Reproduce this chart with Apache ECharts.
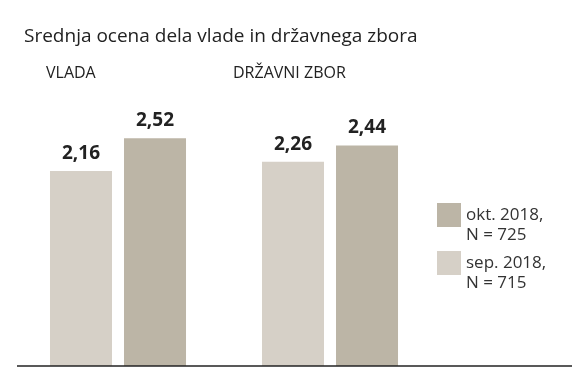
<!DOCTYPE html>
<html>
<head>
<meta charset="utf-8">
<script src="https://cdn.jsdelivr.net/npm/echarts@6/dist/echarts.min.js"></script>
<style>
html,body{margin:0;padding:0;background:#fff;}
#chart{width:588px;height:385px;}
</style>
</head>
<body>
<div id="chart"></div>
<script>
const titleText = 'Srednja ocena dela vlade in državnega zbora';
const categories = ['VLADA', 'DRŽAVNI ZBOR'];
const seriesNames = ['sep. 2018,\nN = 715', 'okt. 2018,\nN = 725'];
const sepValues = [2.16, 2.26];
const oktValues = [2.52, 2.44];
const colors = ['#d6d0c7', '#bcb5a6'];

const FONT = '"Open Sans", "Noto Sans", sans-serif';
const chart = echarts.init(document.getElementById('chart'), null, {renderer: 'canvas'});

const labelOpt = {
  show: true,
  position: 'top',
  distance: 8,
  fontFamily: FONT,
  fontSize: 19,
  fontWeight: 'bold',
  color: '#222',
  formatter: p => p.value.toFixed(2).replace('.', ',')
};

chart.setOption({
  animation: false,
  backgroundColor: '#fff',
  title: {
    text: titleText,
    left: 19,
    top: 22,
    textStyle: {fontFamily: FONT, fontSize: 19, fontWeight: 'normal', color: '#222'}
  },
  legend: {
    orient: 'vertical',
    left: 437,
    top: 185,
    padding: 0,
    itemWidth: 24,
    itemHeight: 24,
    itemGap: -12,
    icon: 'rect',
    selectedMode: false,
    data: [seriesNames[1], seriesNames[0]],
    formatter: name => '\n' + name,
    textStyle: {fontFamily: FONT, fontSize: 17, lineHeight: 20, color: '#333'}
  },
  grid: {left: 12, right: 152, top: 95, bottom: 19},
  xAxis: {
    type: 'category',
    data: categories,
    axisLine: {show: false},
    axisTick: {show: false},
    axisLabel: {show: false}
  },
  yAxis: {
    type: 'value',
    min: 0,
    max: 3,
    show: false
  },
  graphic: [
    {type: 'line', shape: {x1: 17, y1: 366, x2: 572, y2: 366}, style: {stroke: '#222', lineWidth: 1.5}, z: 100},
    {type: 'text', left: 46, top: 65, style: {text: categories[0], fontFamily: FONT, fontSize: 16, fill: '#222'}},
    {type: 'text', left: 233, top: 65, style: {text: categories[1], fontFamily: FONT, fontSize: 16, fill: '#222'}}
  ],
  series: [
    {name: seriesNames[0], type: 'bar', data: sepValues, barWidth: 62, barGap: '19.4%', itemStyle: {color: colors[0]}, label: labelOpt},
    {name: seriesNames[1], type: 'bar', data: oktValues, barWidth: 62, barGap: '19.4%', itemStyle: {color: colors[1]}, label: labelOpt}
  ]
});
</script>
</body>
</html>
